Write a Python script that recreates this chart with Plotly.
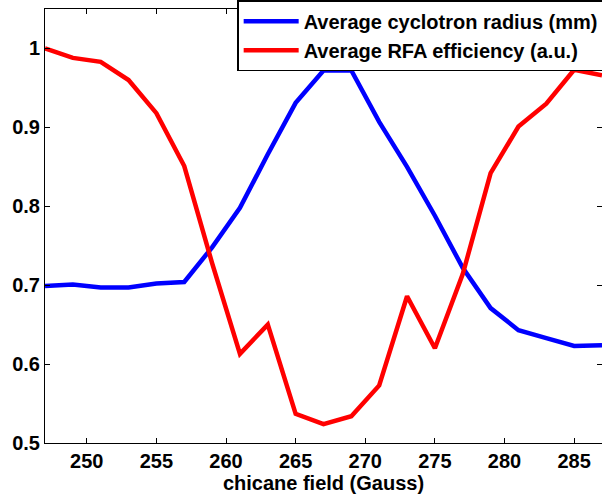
import plotly.graph_objects as go

field = [247, 249, 251, 253, 255, 257, 259, 261, 263, 265, 267, 269, 271, 273, 275, 277, 279, 281, 283, 285, 287]
radius = [0.699, 0.701, 0.697, 0.697, 0.702, 0.704, 0.748, 0.798, 0.866, 0.931, 0.972, 0.972,
          0.907, 0.850, 0.788, 0.722, 0.671, 0.643, 0.633, 0.623, 0.624]
rfa = [1.0, 0.988, 0.983, 0.960, 0.918, 0.851, 0.728, 0.613, 0.650, 0.537, 0.524, 0.534,
       0.573, 0.686, 0.620, 0.714, 0.842, 0.901, 0.930, 0.973, 0.966]
x_ticks = [250, 255, 260, 265, 270, 275, 280, 285]
y_ticks = [0.5, 0.6, 0.7, 0.8, 0.9, 1.0]
y_tick_text = ["0.5", "0.6", "0.7", "0.8", "0.9", "1"]

FONT = "Liberation Sans, Arial, sans-serif"

fig = go.Figure()
fig.add_trace(go.Scatter(x=field, y=radius, mode="lines", name="Average cyclotron radius (mm)",
                         line=dict(color="#0000ff", width=4.5)))
fig.add_trace(go.Scatter(x=field, y=rfa, mode="lines", name="Average RFA efficiency (a.u.)",
                         line=dict(color="#ff0000", width=4.5)))

axis_common = dict(showline=True, linecolor="black", linewidth=1, mirror="ticks",
                   ticks="inside", ticklen=5, tickcolor="black", showgrid=False, zeroline=False,
                   tickfont=dict(family=FONT, size=20, color="black", weight="bold"))

fig.update_xaxes(range=[247, 287], tickvals=x_ticks,
                 title=dict(text="chicane field (Gauss)", standoff=4,
                            font=dict(family=FONT, size=20, color="black", weight="bold")),
                 **axis_common)
fig.update_yaxes(range=[0.5, 1.05], tickvals=y_ticks, ticktext=y_tick_text, **axis_common)

fig.update_layout(
    width=602, height=498,
    margin=dict(l=45, r=0, t=9, b=55, autoexpand=False),
    plot_bgcolor="white", paper_bgcolor="white",
    showlegend=True,
    legend=dict(x=0.345, y=1.02, xanchor="left", yanchor="top",
                bgcolor="white", bordercolor="black", borderwidth=1.5,
                font=dict(family=FONT, size=20, color="black", weight="bold"),
                itemwidth=55, tracegroupgap=0),
)

fig.write_html("out.html", config={"displayModeBar": False},
               post_script="document.body.style.margin='0px';")
